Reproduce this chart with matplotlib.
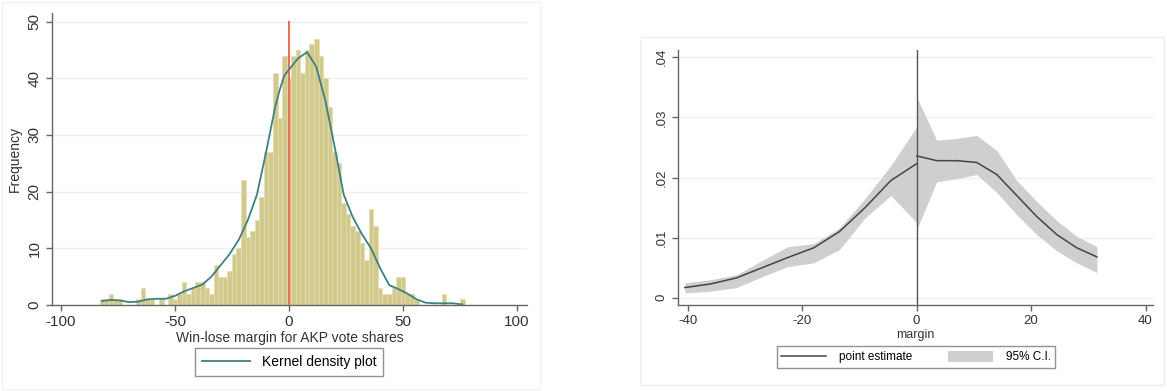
import matplotlib
matplotlib.use("Agg")
import matplotlib.pyplot as plt
from matplotlib.lines import Line2D
from matplotlib.patches import Patch, Rectangle

plt.rcParams['font.family'] = ['Liberation Sans', 'DejaVu Sans']
plt.rcParams['axes.unicode_minus'] = False

# ---------------- Left panel data: histogram (bin width 2) ----------------
bin_centers = list(range(-82, 78, 2))
frequency = [1, 1, 2, 1, 1, 0, 0, 0, 1, 3,
             1, 1, 0, 1, 0, 2, 1, 2, 4, 2,
             3, 4, 4, 3, 2, 7, 5, 5, 6, 9,
             10, 22, 12, 13, 15, 19, 27, 27, 41, 33,
             44, 40, 44, 45, 41, 45, 46, 47, 44, 40,
             35, 27, 25, 18, 16, 14, 13, 11, 8, 17,
             14, 3, 2, 2, 3, 5, 5, 2, 2, 1,
             0, 0, 0, 0, 0, 2, 0, 0, 0, 1]

kde_x = [-82, -78, -74, -70, -66, -62, -58, -54, -50, -46, -42, -38, -34, -30,
         -26, -22, -18, -14, -10, -8, -6, -4, -2, 0, 2, 4, 8, 12, 16, 20, 24,
         28, 32, 36, 40, 44, 48, 52, 56, 60, 64, 68, 72, 76]
kde_y = [0.7, 0.9, 0.8, 0.5, 0.6, 1.0, 1.1, 1.1, 1.6, 2.4, 3.0, 3.6, 5.0, 7.0,
         9.0, 11.5, 15.0, 19.5, 27.0, 31.0, 35.0, 38.0, 40.5, 41.5, 42.5, 43.5,
         44.6, 42.0, 36.0, 28.0, 19.5, 15.5, 12.5, 10.0, 6.5, 3.5, 2.8, 2.0,
         1.0, 0.4, 0.3, 0.3, 0.3, 0.1]

# ---------------- Right panel data: RD estimates ----------------
left_x = [-40.5, -36, -31.5, -27, -22.5, -18, -13.5, -9, -4.5, 0]
left_est = [0.0017, 0.0023, 0.0033, 0.0050, 0.0067, 0.0083, 0.0110, 0.0150, 0.0195, 0.0223]
left_lo = [0.0008, 0.0011, 0.0017, 0.0035, 0.0052, 0.0058, 0.0080, 0.0133, 0.0170, 0.0125]
left_hi = [0.0025, 0.0030, 0.0038, 0.0062, 0.0085, 0.0090, 0.0116, 0.0165, 0.0220, 0.0284]

right_x = [0, 3.5, 7, 10.5, 14, 17.5, 21, 24.5, 28, 31.5]
right_est = [0.0236, 0.0228, 0.0228, 0.0225, 0.0205, 0.0170, 0.0135, 0.0105, 0.0083, 0.0068]
right_lo = [0.0113, 0.0193, 0.0198, 0.0205, 0.0175, 0.0138, 0.0105, 0.0078, 0.0058, 0.0042]
right_hi = [0.0334, 0.0262, 0.0265, 0.0270, 0.0245, 0.0195, 0.0160, 0.0128, 0.0102, 0.0085]

left_xticks = [-100, -50, 0, 50, 100]
left_yticks = [0, 10, 20, 30, 40, 50]
right_xticks = [-40, -20, 0, 20, 40]
right_yticks = [0, 0.01, 0.02, 0.03, 0.04]
right_ytick_labels = ["0", ".01", ".02", ".03", ".04"]

W, H = 1167, 391
fig = plt.figure(figsize=(W / 100, H / 100), dpi=100)

# faint panel frames
fig.patches.append(Rectangle((2 / W, 2 / H), 538 / W, 387 / H, transform=fig.transFigure,
                             fill=False, edgecolor='#f2f2f2', lw=1))
fig.patches.append(Rectangle((640 / W, 6 / H), 524 / W, 348 / H, transform=fig.transFigure,
                             fill=False, edgecolor='#eeeeee', lw=1))

axis_col = '#666666'
grid_col = '#efefef'


def style(ax, fs):
    for s in ['top', 'right']:
        ax.spines[s].set_visible(False)
    for s in ['left', 'bottom']:
        ax.spines[s].set_color(axis_col)
        ax.spines[s].set_linewidth(1.0)
    ax.tick_params(axis='both', colors=axis_col, labelcolor='#333333', length=4,
                   width=1, labelsize=fs, direction='out')


# ---------------- Left axes ----------------
ax1 = fig.add_axes([52 / W, 1 - 305 / H, 475 / W, 292 / H])
style(ax1, 11)
for yv in left_yticks[1:]:
    ax1.axhline(yv, color=grid_col, lw=1, zorder=0)
ax1.bar(bin_centers, frequency, width=2, color='#d2ca8c', edgecolor='#e3ddb0',
        linewidth=0.5, zorder=2)
ax1.plot([0, 0], [0, 50], color='#e8705a', lw=1.5, zorder=3)
ax1.plot(kde_x, kde_y, color='#3f8080', lw=1.3, zorder=4)
ax1.set_xlim(-103.9, 104.4)
ax1.set_ylim(0, 51.5)
ax1.set_xticks(left_xticks)
ax1.set_yticks(left_yticks)
ax1.set_yticklabels([str(v) for v in left_yticks], rotation=90, va='center')
ax1.set_xlabel("Win-lose margin for AKP vote shares", fontsize=10, color='#333333', labelpad=1)
ax1.set_ylabel("Frequency", fontsize=10, color='#333333', labelpad=4)

leg1 = fig.legend(handles=[Line2D([0], [0], color='#3f8080', lw=1.3)],
                  labels=["Kernel density plot"], loc='center',
                  bbox_to_anchor=(289 / W, 1 - 362 / H), fontsize=10,
                  frameon=True, fancybox=False, handlelength=3.5, borderpad=0.5)
leg1.get_frame().set_edgecolor('#777777')
leg1.get_frame().set_linewidth(1.0)

# ---------------- Right axes ----------------
ax2 = fig.add_axes([678 / W, 1 - 305 / H, 475 / W, 255 / H])
style(ax2, 9.5)
for yv in right_yticks:
    ax2.axhline(yv, color=grid_col, lw=1, zorder=0)
ax2.fill_between(left_x, left_lo, left_hi, color='#cfcfcf', lw=0, zorder=1)
ax2.fill_between(right_x, right_lo, right_hi, color='#cfcfcf', lw=0, zorder=1)
ax2.plot(left_x, left_est, color='#444444', lw=1.1, zorder=3)
ax2.plot(right_x, right_est, color='#444444', lw=1.1, zorder=3)
ax2.axvline(0, color='#555555', lw=1.0, zorder=2)
ax2.set_xlim(-41.7, 41.3)
ax2.set_ylim(-0.0012, 0.0412)
ax2.set_xticks(right_xticks)
ax2.set_yticks(right_yticks)
ax2.set_yticklabels(right_ytick_labels, rotation=90, va='center')
ax2.set_xlabel("margin", fontsize=9, color='#333333', labelpad=1)

leg2 = fig.legend(handles=[Line2D([0], [0], color='#444444', lw=1.1),
                           Patch(facecolor='#cfcfcf', edgecolor='none')],
                  labels=["point estimate", "95% C.I."], loc='center', ncol=2,
                  bbox_to_anchor=(916 / W, 1 - 357 / H), fontsize=8.5,
                  frameon=True, fancybox=False, handlelength=3.8, handleheight=1.1,
                  handletextpad=1.1, columnspacing=3.0, borderpad=0.4)
leg2.get_frame().set_edgecolor('#777777')
leg2.get_frame().set_linewidth(1.0)

fig.savefig("out.png", dpi=100)
